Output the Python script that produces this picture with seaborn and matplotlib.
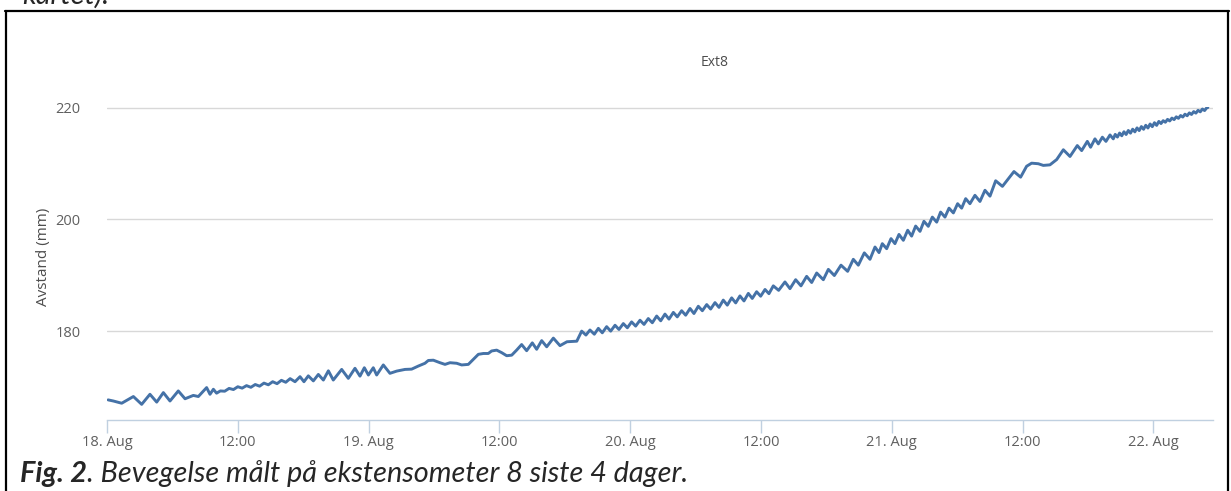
import matplotlib
matplotlib.use("Agg")
import matplotlib.pyplot as plt
import pandas as pd
import seaborn as sns
from matplotlib.lines import Line2D

# hours after 18. Aug 00:00 (peaks and troughs)
hours = [
    0.1, 0.58, 1.35, 2.42, 3.18, 3.94, 4.56, 5.17, 5.78, 6.54, 7.16, 7.92, 8.38, 9.14, 9.45, 9.76, 10.05, 10.4,
    10.8, 11.2, 11.6, 12.0, 12.4, 12.8, 13.2, 13.6, 14.0, 14.4, 14.8, 15.2, 15.6, 16.0, 16.4, 16.8,
    17.25, 17.71, 18.07, 18.47, 18.93, 19.39, 19.85,
    20.31, 20.76, 21.53, 22.14, 22.75, 23.21, 23.61, 23.98, 24.43, 24.74, 25.35, 25.96, 26.58, 27.34, 27.95,
    28.56, 29.17, 29.48, 29.94, 30.55, 31.01, 31.47, 32.08, 32.54, 33.15, 33.61, 34.07, 34.53, 34.98, 35.29,
    35.75, 36.21, 36.67, 37.13, 37.58, 38.04, 38.5, 39.02, 39.42, 39.88, 40.34, 40.95,
    41.56, 42.2, 43.1, 43.55, 43.94, 44.31, 44.71, 45.08, 45.44, 45.84, 46.21, 46.61, 46.97, 47.37, 47.74,
    48.13, 48.5, 48.9, 49.27, 49.66, 50.03, 50.43, 50.8, 51.19, 51.56, 51.96, 52.32, 52.72, 53.09, 53.49,
    53.85, 54.25, 54.62, 55.02, 55.38, 55.78, 56.15, 56.54, 56.91, 57.31, 57.68, 58.07, 58.44, 58.84, 59.2,
    59.6, 59.97, 60.37, 60.73, 61.13, 61.62,
    62.2, 62.66, 63.18, 63.67, 64.19, 64.65, 65.11, 65.72, 66.18, 66.73, 67.34, 67.95, 68.47, 68.93, 69.48,
    70.0, 70.46, 70.83, 71.13, 71.53, 71.93, 72.29, 72.66, 73.06, 73.46, 73.82, 74.19, 74.59, 74.95, 75.35,
    75.72, 76.12, 76.48, 76.88, 77.25, 77.65, 78.04, 78.41, 78.78, 79.17, 79.63, 80.09, 80.55, 81.01, 81.53,
    82.15, 83.21, 83.82, 84.37, 84.83, 85.44, 85.9, 86.51, 87.13, 87.74, 88.35, 89.02, 89.42, 89.94, 90.24,
    90.64, 90.95, 91.32, 91.65, 92.02, 92.32,
    92.5, 92.7, 92.9, 93.1, 93.3, 93.5, 93.7, 93.9, 94.1, 94.3, 94.5, 94.7, 94.9, 95.1, 95.3, 95.5, 95.7,
    95.9, 96.1, 96.3, 96.5, 96.7, 96.9, 97.1, 97.3, 97.5, 97.7, 97.9, 98.1, 98.3, 98.5, 98.7, 98.9, 99.1,
    99.3, 99.5, 99.7, 99.9, 100.1, 100.3, 100.5, 100.7, 100.9, 101.0,
]
avstand_mm = [
    167.7, 167.5, 167.1, 168.3, 166.9, 168.7, 167.3, 169.0, 167.5, 169.3, 167.9, 168.5, 168.3, 169.9, 168.7, 169.6, 168.9, 169.3,
    169.25, 169.75, 169.55, 170.05, 169.8, 170.25, 169.95, 170.45, 170.15, 170.7, 170.4, 170.95, 170.6, 171.2, 170.85, 171.5,
    170.95, 171.85, 170.95, 172.0, 171.1, 172.25, 171.25,
    172.9, 171.25, 173.15, 171.55, 173.35, 171.95, 173.45, 172.15, 173.45, 172.15, 173.95, 172.45, 172.85, 173.15, 173.2,
    173.75, 174.25, 174.75, 174.8, 174.35, 174.05, 174.35, 174.25, 173.95, 174.05, 174.95, 175.85, 176.0, 176.0, 176.45,
    176.6, 176.15, 175.6, 175.7, 176.6, 177.6, 176.5, 177.9, 176.75, 178.3, 177.2, 178.75,
    177.4, 178.1, 178.2, 180.0, 179.3, 180.2, 179.45, 180.5, 179.7, 180.8, 180.0, 181.05, 180.3, 181.35, 180.6,
    181.65, 180.9, 181.95, 181.2, 182.25, 181.5, 182.7, 181.85, 183.05, 182.15, 183.35, 182.55, 183.65, 182.85, 184.05,
    183.15, 184.45, 183.65, 184.75, 183.95, 185.1, 184.25, 185.55, 184.65, 185.95, 185.05, 186.3, 185.4, 186.75, 185.85,
    187.05, 186.25, 187.45, 186.7, 188.1, 187.3,
    188.8, 187.6, 189.2, 188.1, 189.8, 188.7, 190.4, 189.2, 191.05, 189.95, 191.8, 190.7, 192.85, 191.8, 194.0,
    192.85, 195.05, 194.05, 195.65, 194.75, 196.55, 195.65, 197.3, 196.25, 198.05, 197.0, 198.8, 197.85, 199.65, 198.75,
    200.4, 199.5, 201.3, 200.4, 202.0, 201.15, 202.8, 202.0, 203.7, 202.8, 204.3, 203.2, 205.2, 204.15, 206.9,
    205.9, 208.55, 207.55, 209.5, 210.05, 209.95, 209.65, 209.75, 210.7, 212.45, 211.25, 213.2, 212.3, 213.95, 212.9,
    214.4, 213.5, 214.7, 213.95, 215.1, 214.4,
    215.2, 214.72, 215.44, 214.95, 215.67, 215.18, 215.9, 215.42, 216.13, 215.65, 216.36, 215.88, 216.6, 216.11, 216.83, 216.34, 217.06,
    216.58, 217.29, 216.81, 217.52, 217.14, 217.66, 217.37, 217.89, 217.6, 218.12, 217.84, 218.35, 218.07, 218.58, 218.3, 218.82, 218.53,
    219.05, 218.76, 219.28, 219.0, 219.51, 219.23, 219.74, 219.46, 219.98, 220.0,
]

tick_hours = [0, 12, 24, 36, 48, 60, 72, 84, 96]
tick_labels = ["18. Aug", "12:00", "19. Aug", "12:00", "20. Aug", "12:00", "21. Aug", "12:00", "22. Aug"]
y_ticks = [180, 200, 220]

df = pd.DataFrame({"hours": hours, "avstand": avstand_mm})

sns.set_theme(style="white")
plt.rcParams['font.family'] = ['Open Sans', 'DejaVu Sans']

W, H = 1231, 491
fig = plt.figure(figsize=(W / 100, H / 100), dpi=100)
ax = fig.add_axes([107 / W, 71 / H, 1106 / W, 313 / H])

sns.lineplot(data=df, x="hours", y="avstand", color="#4572A7", linewidth=2.1, ax=ax)

ax.set_xlim(0, 101.47)
ax.set_ylim(164.1, 220.1)
ax.set_yticks(y_ticks)
ax.yaxis.grid(True, color="#D8D8D8", linewidth=1)
ax.set_xticks(tick_hours)
ax.set_xticklabels(tick_labels)
for s in ["top", "right", "left"]:
    ax.spines[s].set_visible(False)
ax.spines["bottom"].set_color("#C0D0E0")
ax.spines["bottom"].set_linewidth(1)
ax.tick_params(axis="x", bottom=True, length=9, width=1, color="#C0D0E0", direction="out",
               labelsize=10.5, labelcolor="#606060", pad=2)
ax.tick_params(axis="y", left=False, length=0, labelsize=10.5, labelcolor="#606060", pad=19)
ax.set_xlabel("")
ax.set_ylabel("Avstand (mm)", color="#4D4D4D", fontsize=11)
ax.yaxis.set_label_coords(-0.051, 0.52)

fig.text(715 / W, 1 - 62 / H, "Ext8", ha="center", va="center", fontsize=10, color="#4D4D4D")

# document frame around the chart
lw = 1.6
fig.add_artist(Line2D([5 / W, 1229 / W], [1 - 11 / H, 1 - 11 / H], color="black", linewidth=lw))
fig.add_artist(Line2D([6 / W, 6 / W], [0, 1 - 11 / H], color="black", linewidth=lw))
fig.add_artist(Line2D([1228 / W, 1228 / W], [0, 1 - 11 / H], color="black", linewidth=lw))

# caption and cut-off line of text above the frame
cap_font = ['Lato', 'DejaVu Sans']
cap_size = 20.8
fig.text(22 / W, 1 - 4 / H, "kartet).", family=cap_font, style="italic", fontsize=cap_size, va="baseline")
t1 = fig.text(20 / W, 1 - 482 / H, "Fig. 2", family=cap_font, style="italic", fontweight="bold",
              fontsize=cap_size, va="baseline")
fig.canvas.draw()
bb = t1.get_window_extent()
fig.text(bb.x1 / W, 1 - 482 / H, ". Bevegelse målt på ekstensometer 8 siste 4 dager.", family=cap_font,
         style="italic", fontsize=cap_size, va="baseline")

fig.savefig("out.png", dpi=100)
